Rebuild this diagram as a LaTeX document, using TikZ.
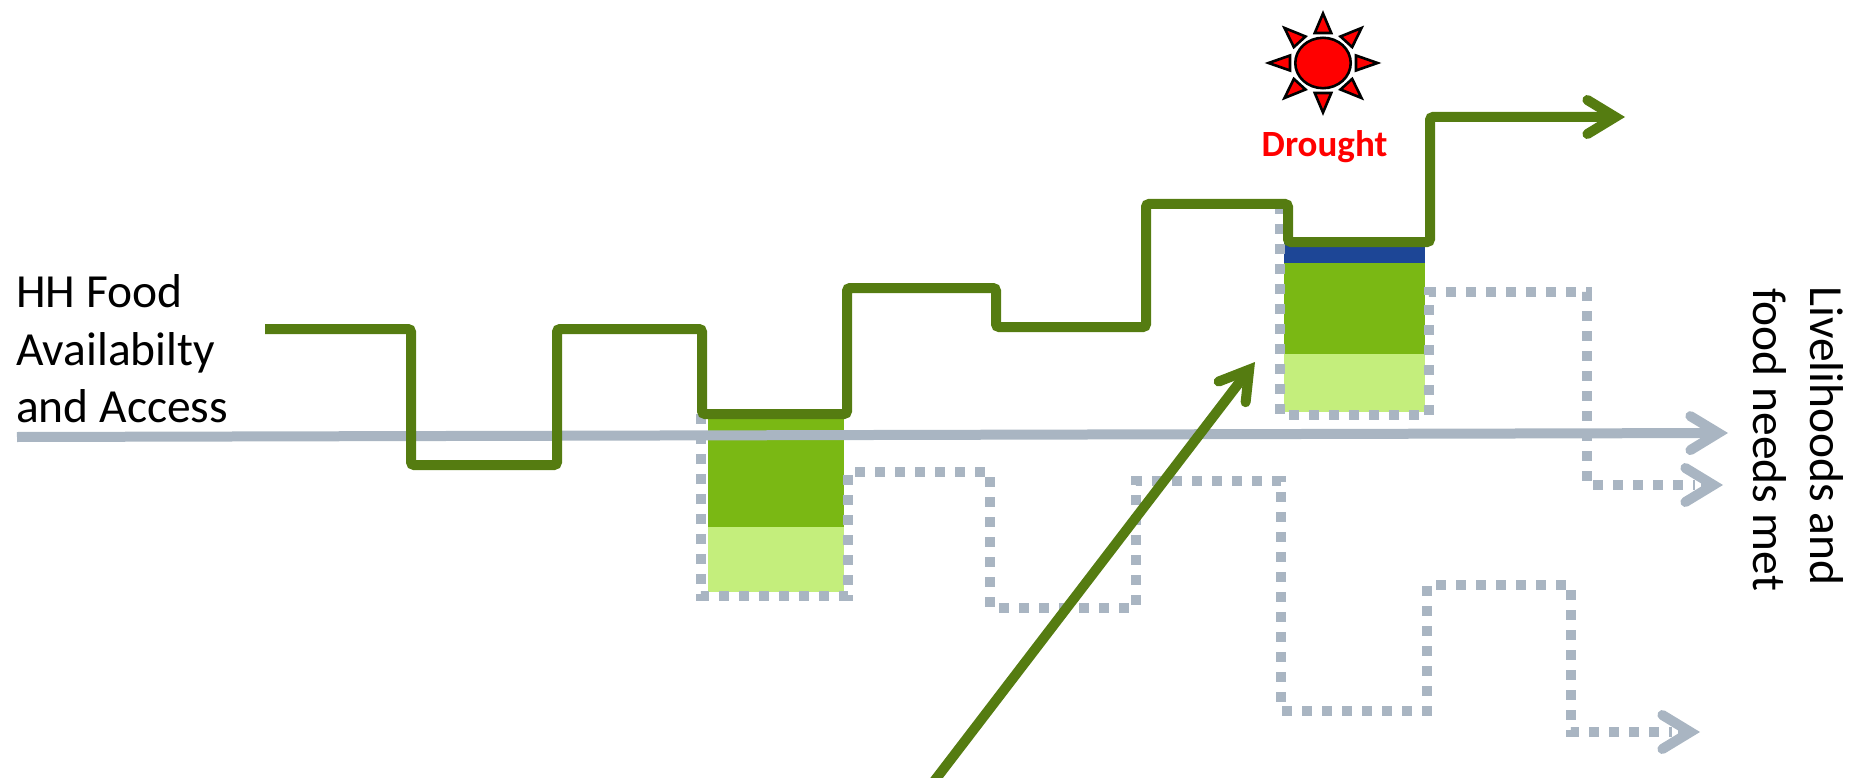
\documentclass[tikz,border=0pt]{standalone}
\usepackage{fontspec}
\setmainfont{Carlito}
\usetikzlibrary{arrows.meta}
\definecolor{lineg}{HTML}{557C11}
\definecolor{midg}{HTML}{7AB814}
\definecolor{lightg}{HTML}{C4EE7C}
\definecolor{navy}{HTML}{1D4696}
\definecolor{slate}{HTML}{A9B5C2}
\tikzset{
  barb/.style={-{Straight Barb[length=28pt,width=34pt,line cap=round,line join=miter]}},
  greenline/.style={draw=lineg,line width=10pt,rounded corners=3pt},
  greyline/.style={draw=slate,line width=10pt},
  dotline/.style={draw=slate,line width=10pt,dash pattern=on 10pt off 10pt},
  label/.style={font=\fontsize{47.5}{57.5}\selectfont,inner sep=0pt,align=left,text=black},
  ray/.style={fill=red,draw=black,line width=2.6pt,line join=miter},
}
\begin{document}
\begin{tikzpicture}[x=1pt,y=-1pt]
\useasboundingbox (0,0) rectangle (1860,778);
\clip (0,0) rectangle (1860,778);
% shaded blocks
\fill[midg] (708,414) rectangle (844,527);
\fill[lightg] (708,527) rectangle (844,592);
\fill[navy] (1284,242) rectangle (1425,263);
\fill[midg] (1284,263) rectangle (1425,354);
\fill[lightg] (1284,354) rectangle (1425,412);
% dotted scenarios
\coordinate (d1s) at (701,414);
\coordinate (d1e) at (1700,732);
\draw[dotline] (d1s) -- (701,596) -- (848,596) -- (848,472) -- (990,472) -- (990,608) -- (1136,608) -- (1136,481) -- (1281,481) -- (1281,711) -- (1427,711) -- (1427,585) -- (1571,585) -- (1571,732) -- (1672,732);
\draw[greyline,barb] (1678,732) -- (d1e);
\coordinate (d2s) at (1280,204);
\coordinate (d2e) at (1723,485);
\draw[dotline] (d2s) -- (1280,415) -- (1429,415) -- (1429,292) -- (1587,292) -- (1587,485) -- (1695,485);
\draw[greyline,barb] (1701,485) -- (d2e);
% baseline
\coordinate (gs) at (17,437);
\coordinate (ge) at (1728,433);
\draw[greyline,barb] (gs) -- (ge);
% food access line
\coordinate (fs) at (265,329);
\coordinate (fe) at (1625,117);
\draw[greenline,barb] (fs) -- (411,329) -- (411,465) -- (557,465) -- (557,329) -- (702,329) -- (702,414) -- (847,414) -- (847,288) -- (996,288) -- (996,327) -- (1146,327) -- (1146,204) -- (1288,204) -- (1288,242) -- (1430,242) -- (1430,117) -- (fe);
% diagonal
\coordinate (as) at (932,784);
\coordinate (ae) at (1255,362);
\draw[draw=lineg,line width=10pt,barb] (as) -- (ae);
% sun
\begin{scope}[shift={(1323,63)},xscale=1.1]
  \draw[fill=red,draw=black,line width=2.6pt] (0,0) circle (25.2);
  \foreach \a in {0,45,...,315}{
    \draw[ray,rotate=\a] (30,-7.5) -- (49.5,0) -- (30,7.5) -- cycle;
  }
\end{scope}
\node[font=\fontsize{37}{40}\selectfont\bfseries,text=red,anchor=base,inner sep=0pt] (drought) at (1324.5,157) {Drought};
% labels
\node[label,anchor=base west] (hh) at (16,307) {HH Food};
\node[label,anchor=base west] (av) at (16,365) {Availabilty};
\node[label,anchor=base west] (ac) at (16,422) {and Access};
\node[label,anchor=base west,rotate=-90] (l1) at (1810,286) {Livelihoods and};
\node[label,anchor=base west,rotate=-90] (l2) at (1753,288) {food needs met};
\end{tikzpicture}
\end{document}
